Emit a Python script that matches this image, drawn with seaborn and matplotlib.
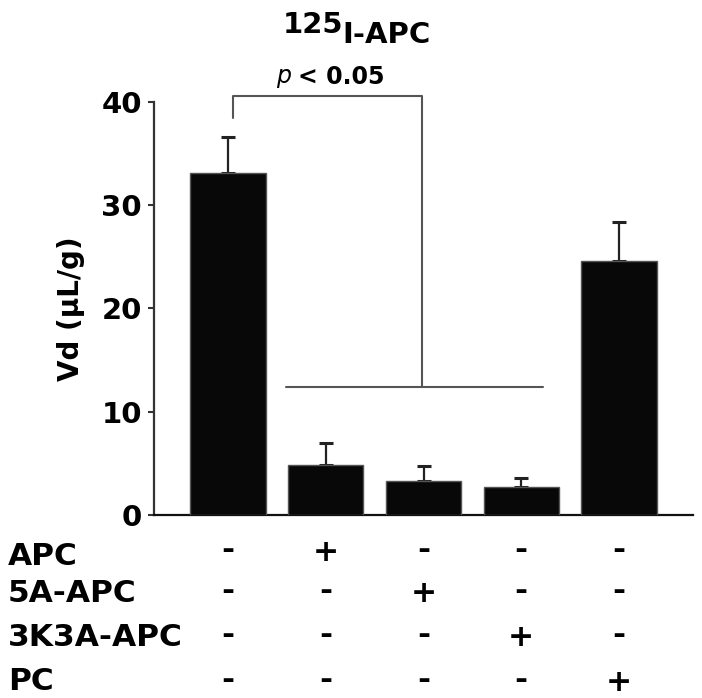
import matplotlib
matplotlib.use("Agg")
import matplotlib.pyplot as plt
import matplotlib.transforms as mtrans
import seaborn as sns
import pandas as pd
import numpy as np

# ---- data ----
groups = ["G1", "G2", "G3", "G4", "G5"]
vd_mean = [33.1, 4.84, 3.25, 2.68, 24.6]
vd_sem = [3.5, 2.16, 1.5, 0.87, 3.8]
treatments = ["APC", "5A-APC", "3K3A-APC", "PC"]
signs = [
    ["-", "+", "-", "-", "-"],
    ["-", "-", "+", "-", "-"],
    ["-", "-", "-", "+", "-"],
    ["-", "-", "-", "-", "+"],
]
yticks = [0, 10, 20, 30, 40]

W, H = 702, 698
sns.set_style("ticks")
plt.rcParams["font.family"] = ["DejaVu Sans"]
plt.rcParams["font.weight"] = "bold"
plt.rcParams["text.color"] = "black"
plt.rcParams["axes.labelcolor"] = "black"
plt.rcParams["ytick.labelcolor"] = "black"

fig = plt.figure(figsize=(W / 100, H / 100), dpi=100)
ax = fig.add_axes([154 / W, 1 - 515 / H, (693 - 154) / W, (515 - 101.7) / H])

df = pd.DataFrame({"group": groups, "vd": vd_mean})
sns.barplot(data=df, x="group", y="vd", color="#080808", width=0.77,
            errorbar=None, edgecolor="#555555", linewidth=1.0, ax=ax, zorder=3)
xs = np.arange(len(groups))
ax.errorbar(xs, vd_mean, yerr=[np.zeros(len(vd_sem)), vd_sem], fmt="none",
            ecolor="#222222", elinewidth=1.6, capsize=4.8, capthick=2.2, zorder=2)

ax.set_xlim(-0.757, 4.757)
ax.set_ylim(0, 40)
ax.set_yticks(yticks)
ax.set_yticklabels([str(t) for t in yticks], fontsize=21, fontweight="bold",
                   color="black")
ax.set_xticks([])
ax.set_xlabel("")
ax.set_ylabel("Vd (\u00b5L/g)", fontsize=20, fontweight="bold", labelpad=12,
              color="black")
for s in ["top", "right"]:
    ax.spines[s].set_visible(False)
for s in ["left", "bottom"]:
    ax.spines[s].set_linewidth(1.6)
    ax.spines[s].set_color("#333333")
ax.spines["bottom"].set_color("#111111")
ax.tick_params(axis="y", length=4.3, width=1.5, pad=4.3, colors="#333333",
               labelcolor="black")

# significance bracket
lc = "#555555"
ax.plot([0.05, 0.05, 1.98, 1.98], [38.4, 40.55, 40.55, 12.4], color=lc,
        lw=1.5, clip_on=False, zorder=4)
ax.plot([0.59, 3.22], [12.4, 12.4], color=lc, lw=1.5, clip_on=False, zorder=4)

def fx(px):
    return px / W

def fy(px):
    return 1 - px / H

fig.text(fx(291), fy(83.5), "p", fontsize=17, style="italic",
         fontweight="normal", ha="right", va="baseline", color="black")
fig.text(fx(298), fy(83.5), "< 0.05", fontsize=17, fontweight="bold",
         ha="left", va="baseline", color="black")

# title
fig.text(fx(343), fy(33), "125", fontsize=21, fontweight="bold",
         ha="right", va="baseline", color="black")
fig.text(fx(342), fy(43), "I-APC", fontsize=21, fontweight="bold",
         ha="left", va="baseline", color="black")

# treatment table
row_label_base = [565, 602, 646, 690]
row_sign_center = [550, 591, 635, 680]
trans = mtrans.blended_transform_factory(ax.transData, fig.transFigure)
for r, name in enumerate(treatments):
    fig.text(fx(8), fy(row_label_base[r]), name, fontsize=22.5,
             fontweight="bold", ha="left", va="baseline", color="black")
    for c, sg in enumerate(signs[r]):
        off = 11.0 if sg == "+" else 9.0
        ax.text(xs[c], fy(row_sign_center[r] + off), sg, fontsize=22.5,
                fontweight="bold", ha="center", va="baseline",
                transform=trans, clip_on=False, color="black")

fig.savefig("out.png", dpi=100)
